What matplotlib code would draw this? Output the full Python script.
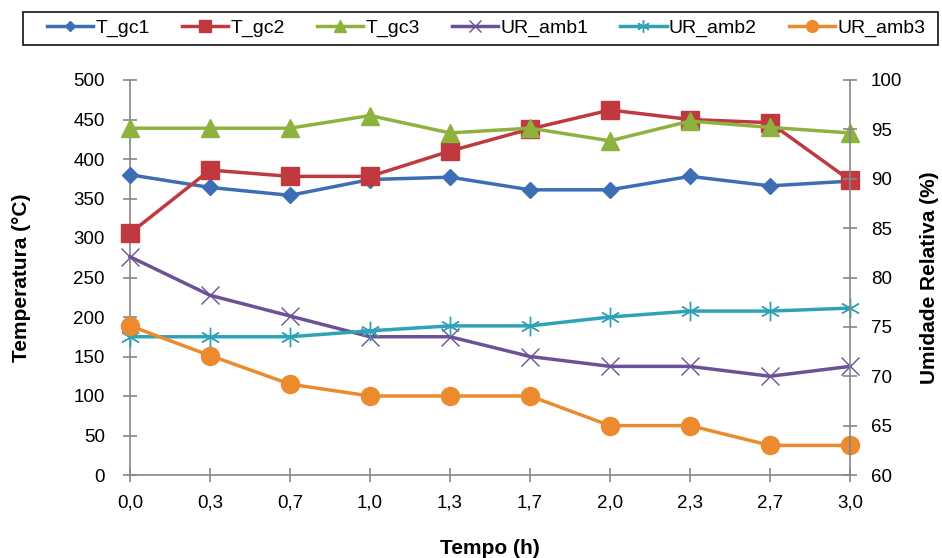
import matplotlib
matplotlib.use("Agg")
import matplotlib.pyplot as plt
from matplotlib.patches import Rectangle

plt.rcParams['font.family'] = ['Liberation Sans', 'DejaVu Sans']

tempo = ["0,0", "0,3", "0,7", "1,0", "1,3", "1,7", "2,0", "2,3", "2,7", "3,0"]

t_gc1 = [380, 364, 354, 374, 377, 361, 361, 378, 366, 372]
t_gc2 = [306, 386, 378, 378, 410, 438, 462, 450, 446, 373]
t_gc3 = [439, 439, 439, 455, 433, 439, 423, 448, 440, 433]

ur_amb1 = [82.1, 78.2, 76.1, 74.0, 74.0, 72.0, 71.0, 71.0, 70.0, 71.0]
ur_amb2 = [74.0, 74.0, 74.0, 74.6, 75.1, 75.1, 76.0, 76.6, 76.6, 76.9]
ur_amb3 = [75.1, 72.1, 69.2, 68.0, 68.0, 68.0, 65.0, 65.0, 63.0, 63.0]

c_blue = '#3d6db5'
c_red = '#c0393e'
c_green = '#8db23e'
c_purple = '#6b5296'
c_teal = '#2fa3b5'
c_orange = '#ec8a2e'
axis_gray = '#868686'

fig = plt.figure(figsize=(9.42, 5.58), dpi=100)
ax1 = fig.add_axes([130/942, 1-475/558, 720/942, 395/558])
ax2 = ax1.twinx()

x = list(range(len(tempo)))
lw = 2.5

ax1.plot(x, t_gc1, color=c_blue, lw=lw, marker='D', ms=8.5, clip_on=False, label='T_gc1', zorder=3)
ax1.plot(x, t_gc2, color=c_red, lw=lw, marker='s', ms=13, clip_on=False, label='T_gc2', zorder=3)
ax1.plot(x, t_gc3, color=c_green, lw=lw, marker='^', ms=12.5, clip_on=False, label='T_gc3', zorder=3)

ax2.plot(x, ur_amb1, color=c_purple, lw=lw, marker='x', ms=13, mew=1.0, clip_on=False, label='UR_amb1')
ax2.plot(x, ur_amb2, color=c_teal, lw=lw, marker=(6, 2, 0), ms=14, mew=1.0, clip_on=False, label='UR_amb2')
ax2.plot(x, ur_amb3, color=c_orange, lw=lw, marker='o', ms=13, clip_on=False, label='UR_amb3')

ax1.set_xlim(0, len(tempo) - 1)
ax1.set_ylim(0, 500)
ax2.set_ylim(60, 100)
ax1.set_xticks(x)
ax1.set_xticklabels(tempo)
ax1.set_yticks(range(0, 501, 50))
ax2.set_yticks(range(60, 101, 5))

for ax in (ax1, ax2):
    ax.spines['top'].set_visible(False)
    for s in ('left', 'right', 'bottom'):
        ax.spines[s].set_color(axis_gray)
        ax.spines[s].set_linewidth(1.2)
    ax.tick_params(axis='both', direction='inout', length=10, width=1.2,
                   color=axis_gray, labelsize=13.5, labelcolor='black')
ax1.spines['right'].set_visible(False)
ax2.spines['left'].set_visible(False)
ax2.spines['bottom'].set_visible(False)
ax1.tick_params(axis='x', pad=9)
ax1.tick_params(axis='y', pad=13)
ax2.tick_params(axis='y', pad=10)

ax1.set_xlabel('Tempo (h)', fontsize=15, fontweight='bold')
ax1.set_ylabel('Temperatura (°C)', fontsize=15, fontweight='bold')
ax2.set_ylabel('Umidade Relativa (%)', fontsize=15, fontweight='bold', rotation=90)
ax1.xaxis.set_label_coords(0.5, (475 - 548) / 395)
ax1.xaxis.label.set_va('center')
ax1.yaxis.set_label_coords((22 - 130) / 720, 0.5)
ax1.yaxis.label.set_va('center')
ax2.yaxis.set_label_coords((930 - 130) / 720, 0.5)
ax2.yaxis.label.set_va('center')

# legend entries spread across the top, inside a plain black frame
h1, l1 = ax1.get_legend_handles_labels()
h2, l2 = ax2.get_legend_handles_labels()
leg = fig.legend(h1 + h2, l1 + l2, loc='center', ncol=6, mode='expand',
                 bbox_to_anchor=(41/942, 1-45/558, 890/942, 33/558),
                 frameon=False, fontsize=14,
                 handlelength=2.4, handletextpad=0.1, borderpad=0.3,
                 borderaxespad=0, markerscale=0.65)
fig.patches.append(Rectangle((23/942, 1-45/558), 915/942, 33/558,
                             transform=fig.transFigure, fill=False,
                             edgecolor='#222222', linewidth=1.3))

fig.savefig('out.png', dpi=100)
